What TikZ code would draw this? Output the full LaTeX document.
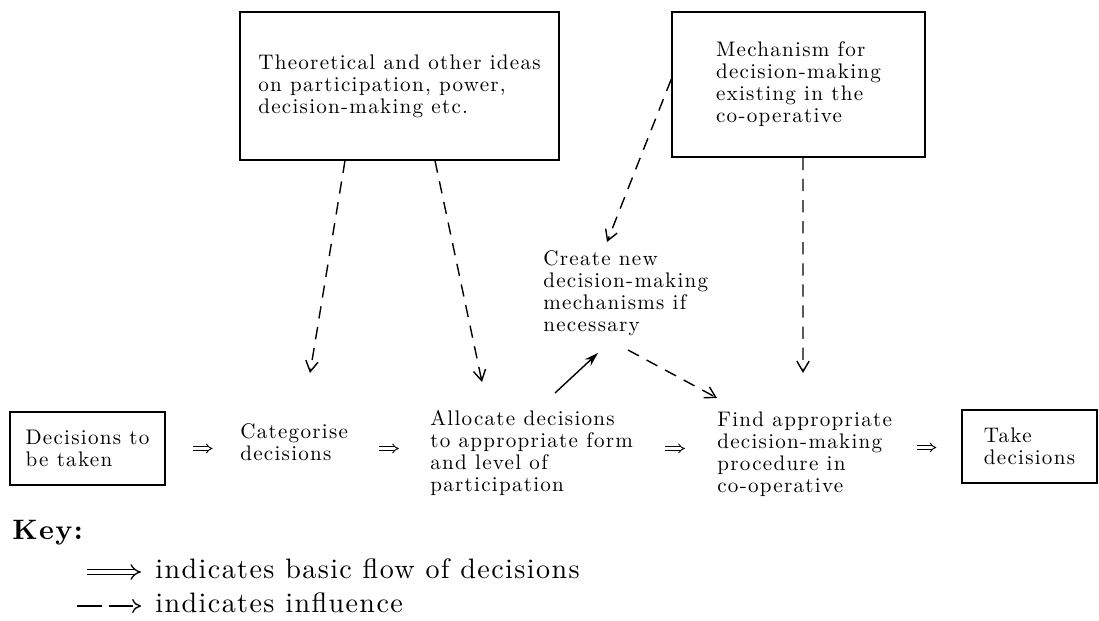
\documentclass[tikz,border=0pt]{standalone}
\usepackage{fontspec}
\newfontfamily\figfont{lmroman10-regular.otf}[LetterSpace=6]
\newfontfamily\keyfont{lmroman10-regular.otf}[BoldFont=lmroman10-bold.otf,LetterSpace=5]
\usetikzlibrary{arrows.meta,calc}

\begin{document}
\begin{tikzpicture}[x=0.02cm,y=-0.02cm,font=\figfont\fontsize{12}{12.5}\selectfont]
  \tikzset{ box/.style={draw,line width=1pt,align=left,inner sep=0pt},
    txt/.style={anchor=north west,align=left,inner sep=0pt},
    infl/.style={dash pattern=on 7pt off 5pt,line width=0.8pt,-{Straight Barb[length=6pt,width=7pt]}},
    flow/.style={double,double distance=1.4pt,line width=0.5pt,-{Implies}},
    keyline/.style={anchor=base west,inner sep=0pt,font=\keyfont\fontsize{16}{18}\selectfont},
  }
  \useasboundingbox (0,0) rectangle (1099,621);

  % the boxes at the top
  \node[box,minimum width=181.5pt,minimum height=84pt] (theory) at (399.5,86)
    {Theoretical and other ideas\\on participation, power,\\decision-making etc.};
  \node[box,minimum width=144pt,minimum height=82.5pt] (mech) at (798.5,84.5)
    {Mechanism for\\decision-making\\existing in the\\co-operative};
  \node[txt] (create) at (543,250)
    {Create new\\decision-making\\mechanisms if\\necessary};

  % the row of decisions
  \node[box,minimum width=88pt,minimum height=41.5pt] (dec) at (87.5,448.5)
    {Decisions to\\be taken};
  \node[txt] (cat) at (240,423) {Categorise\\decisions};
  \node[txt] (alloc) at (430,410)
    {Allocate decisions\\to appropriate form\\and level of\\participation};
  \node[txt] (find) at (717,412)
    {Find appropriate\\decision-making\\procedure in\\co-operative};
  \node[box,minimum width=77pt,minimum height=41.5pt] (take) at (1029.5,446.5)
    {Take\\decisions};

  % basic flow, one short arrow in the middle of each gap
  \path (dec.east) -- coordinate[midway] (f1) (cat.west |- dec.east);
  \path (cat.east |- dec.east) -- coordinate[midway] (f2) (alloc.west |- dec.east);
  \path (alloc.east |- dec.east) -- coordinate[midway] (f3) (find.west |- dec.east);
  \path (find.east |- dec.east) -- coordinate[midway] (f4) (take.west);
  \foreach \f in {f1,f2,f3,f4}
    \draw[flow] ([xshift=-5.5pt]\f) -- ([xshift=5.5pt]\f);

  % influence
  \draw[infl] ($(theory.south)+(-54.5,0)$) -- ($(cat.north west)+(70,-50)$);
  \draw[infl] ($(theory.south)+(35.5,0)$) -- ($(alloc.north west)+(52,-28)$);
  \draw[infl] ($(mech.west)+(0,-5)$) -- ($(create.north west)+(64,-8)$);
  \draw[infl] ($(mech.south)+(4.5,0)$) -- ($(find.north west)+(86,-39)$);
  \draw[infl] ($(create.north west)+(85,100)$) -- ($(find.north west)+(0,-14)$);
  \draw[-{Stealth[length=8pt,width=5pt]},line width=0.8pt] ($(alloc.north west)+(125,-17)$) -- ($(create.north west)+(55,103)$);

  % key
  \node[keyline] (key) at (12,540) {\bfseries Key:};
  \node[keyline] (k1) at (155,578) {indicates basic flow of decisions};
  \node[keyline] (k2) at (155,612) {indicates influence};
  \coordinate (k1a) at (87,572);
  \coordinate (k2a) at (77,606);
  \draw[flow,double distance=2.4pt,line width=0.7pt] (k1a) -- ([xshift=-8pt]k1.west |- k1a);
  \draw[infl,dash pattern=on 14pt off 4pt,-{To[length=5pt,width=8pt]}] (k2a) -- ([xshift=-8pt]k2.west |- k2a);
\end{tikzpicture}
\end{document}
